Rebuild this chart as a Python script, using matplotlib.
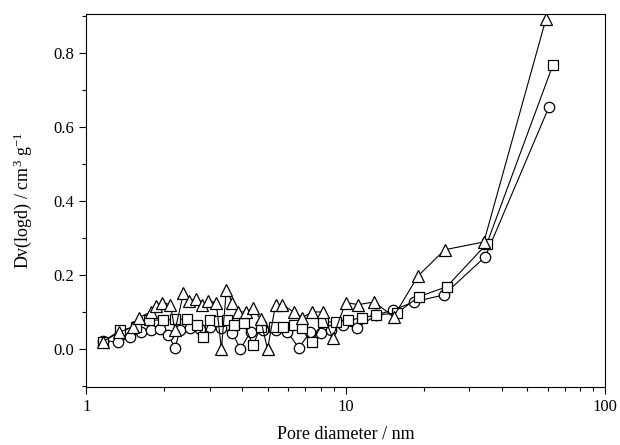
import numpy as np
import matplotlib
matplotlib.use('Agg')
import matplotlib.pyplot as plt
from matplotlib.ticker import MultipleLocator, LogLocator, NullFormatter, FixedFormatter, FixedLocator

plt.rcParams['font.family'] = 'Liberation Serif'
plt.rcParams['mathtext.default'] = 'regular'

# circles
d_circ = [1.16, 1.33, 1.48, 1.62, 1.77, 1.93, 2.07, 2.20, 2.30, 2.52, 2.75, 3.00, 3.30, 3.66,
          3.93, 4.30, 4.80, 5.37, 5.96, 6.60, 7.30, 8.00, 8.75, 9.80, 11.1, 13.1, 15.2, 18.3,
          23.9, 34.5, 60.8]
v_circ = [0.022, 0.019, 0.032, 0.046, 0.051, 0.054, 0.038, 0.003, 0.051, 0.057, 0.055, 0.060,
          0.057, 0.043, 0.000, 0.046, 0.050, 0.051, 0.046, 0.003, 0.046, 0.043, 0.051, 0.065,
          0.057, 0.092, 0.105, 0.127, 0.146, 0.249, 0.654]

# squares
d_sq = [1.16, 1.35, 1.55, 1.74, 1.98, 2.20, 2.45, 2.68, 2.83, 3.00, 3.25, 3.50, 3.70, 4.04,
        4.40, 4.70, 5.30, 5.75, 6.30, 6.80, 7.45, 8.20, 9.15, 10.2, 11.6, 13.1, 15.8, 19.1,
        24.5, 35.0, 63.0]
v_sq = [0.020, 0.050, 0.060, 0.078, 0.078, 0.080, 0.081, 0.065, 0.032, 0.078, 0.075, 0.078,
        0.065, 0.070, 0.010, 0.060, 0.060, 0.060, 0.065, 0.057, 0.020, 0.073, 0.073, 0.078,
        0.084, 0.092, 0.097, 0.141, 0.168, 0.284, 0.768]

# triangles
d_tri = [1.16, 1.34, 1.51, 1.60, 1.77, 1.85, 1.96, 2.11, 2.20, 2.37, 2.48, 2.64, 2.80, 2.96,
         3.17, 3.32, 3.47, 3.66, 3.86, 4.14, 4.40, 4.70, 5.00, 5.37, 5.70, 6.30, 6.80, 7.45,
         8.15, 8.90, 10.0, 11.2, 12.9, 15.3, 19.0, 24.1, 34.1, 59.2]
v_tri = [0.020, 0.045, 0.060, 0.085, 0.100, 0.115, 0.125, 0.120, 0.050, 0.150, 0.130, 0.135,
         0.120, 0.130, 0.125, 0.000, 0.160, 0.125, 0.100, 0.100, 0.110, 0.080, 0.000, 0.120,
         0.120, 0.100, 0.085, 0.100, 0.100, 0.030, 0.125, 0.120, 0.127, 0.087, 0.197, 0.268,
         0.289, 0.892]

fig = plt.figure(figsize=(6.2, 4.45), dpi=100)
ax = fig.add_axes([0.139, 0.130, 0.837, 0.839])

style = dict(color='black', lw=0.8, mfc='white', mec='black', mew=0.9)
ax.plot(d_circ, v_circ, marker='o', ms=7.5, **style)
ax.plot(d_sq, v_sq, marker='s', ms=7, **style)
ax.plot(d_tri, v_tri, marker='^', ms=9, **style)

ax.set_xscale('log')
ax.set_xlim(1, 100)
ax.set_ylim(-0.103, 0.905)
ax.xaxis.set_major_locator(FixedLocator([1, 10, 100]))
ax.xaxis.set_major_formatter(FixedFormatter(['1', '10', '100']))
ax.xaxis.set_minor_locator(LogLocator(base=10, subs=np.arange(2, 10)))
ax.xaxis.set_minor_formatter(NullFormatter())
ax.yaxis.set_major_locator(MultipleLocator(0.2))
ax.yaxis.set_minor_locator(MultipleLocator(0.1))
ax.yaxis.set_major_formatter(plt.FuncFormatter(lambda v, p: f'{v:.1f}'))

ax.tick_params(which='both', direction='out', top=False, right=False, labelsize=12, width=0.8)
ax.tick_params(which='major', length=5)
ax.tick_params(which='minor', length=3)
for s in ax.spines.values():
    s.set_linewidth(0.8)

ax.set_xlabel('Pore diameter / nm', fontsize=13, labelpad=8)
ax.set_ylabel('Dv(logd) / cm$^{3}$ g$^{-1}$', fontsize=13, labelpad=14)

fig.savefig('out.png', dpi=100)
